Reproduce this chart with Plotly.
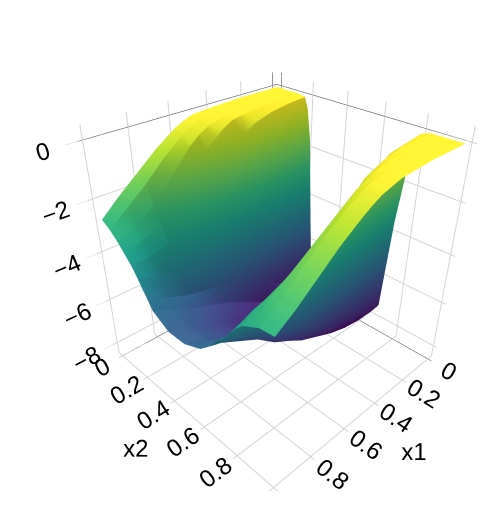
import numpy as np
import plotly.graph_objects as go

x1_vals = [0, 0.1, 0.2, 0.3, 0.35, 0.4, 0.45, 0.5, 0.55, 0.6, 0.65, 0.7, 0.8, 0.9, 0.99]
x2_vals = [0, 0.05, 0.1, 0.14, 0.18, 0.2, 0.22, 0.245, 0.265, 0.3, 0.4, 0.5, 0.6, 0.66, 0.7, 0.73, 0.76, 0.8, 0.84, 0.88, 0.92, 0.99]
tick_vals = [0, 0.2, 0.4, 0.6, 0.8, 1]
tick_text = ["0", "0.2", "0.4", "0.6", "0.8", ""]

# one row per x1 value
z_00 = [0, 0, 0, 0, -0.05, -0.5, -1.6, -5, -7.5, -7.9, -8, -8, -8, -7.8, -7.3, -3.5, -1.2, -0.1, 0, 0, 0, 0]
z_10 = [0, 0, 0, 0, -0.1, -0.6, -1.8, -5, -7.4, -7.8, -8, -8, -8, -7.8, -7.2, -4, -1.6, -0.2, 0, 0, 0, 0]
z_20 = [0, 0, 0, -0.03, -0.2, -0.8, -2, -5, -7.2, -7.7, -7.9, -8, -8, -7.7, -7, -4.6, -2, -0.3, -0.05, 0, 0, 0]
z_30 = [-0.02, -0.02, -0.05, -0.1, -0.4, -1.1, -2.4, -4.9, -6.8, -7.5, -7.8, -7.9, -7.9, -7.5, -6.8, -5, -2.7, -0.8, -0.2, -0.05, -0.05, -0.05]
z_35 = [-0.03, -0.04, -0.07, -0.14, -0.6, -1.3, -2.6, -4.85, -6.6, -7.4, -7.7, -7.8, -7.75, -7.35, -6.7, -5.2, -3, -1.1, -0.35, -0.1, -0.07, -0.07]
z_40 = [-0.05, -0.05, -0.1, -0.2, -0.9, -1.6, -2.9, -4.8, -6.4, -7.2, -7.6, -7.7, -7.6, -7.2, -6.6, -5.3, -3.2, -1.4, -0.5, -0.2, -0.1, -0.1]
z_45 = [-0.07, -0.1, -0.2, -0.4, -1.2, -1.9, -3.1, -4.8, -6.2, -7, -7.45, -7.55, -7.4, -7.05, -6.45, -5.4, -3.6, -1.9, -0.85, -0.35, -0.2, -0.2]
z_50 = [-0.1, -0.15, -0.3, -0.7, -1.5, -2.3, -3.4, -4.8, -6, -6.8, -7.3, -7.4, -7.2, -6.9, -6.3, -5.4, -3.9, -2.3, -1.1, -0.5, -0.3, -0.3]
z_55 = [-0.22, -0.3, -0.5, -1, -1.9, -2.6, -3.6, -4.85, -5.85, -6.6, -7.15, -7.2, -7, -6.65, -6.1, -5.3, -4.1, -2.75, -1.5, -0.75, -0.5, -0.48]
z_60 = [-0.4, -0.5, -0.8, -1.4, -2.3, -3, -3.8, -4.9, -5.7, -6.4, -7, -7, -6.8, -6.4, -5.9, -5.2, -4.2, -3, -1.8, -1, -0.7, -0.7]
z_65 = [-0.65, -0.8, -1.2, -1.8, -2.65, -3.3, -4, -4.95, -5.65, -6.25, -6.75, -6.75, -6.5, -6.1, -5.6, -4.95, -4.1, -3.05, -2, -1.25, -0.95, -0.95]
z_70 = [-0.9, -1.1, -1.6, -2.2, -3, -3.6, -4.2, -5, -5.6, -6.1, -6.5, -6.5, -6.2, -5.8, -5.3, -4.7, -4, -3.1, -2.2, -1.5, -1.2, -1.2]
z_80 = [-1.5, -1.8, -2.4, -3, -3.6, -4, -4.5, -5, -5.4, -5.8, -6.1, -6.1, -5.8, -5.3, -4.8, -4.3, -3.7, -3.1, -2.5, -2, -1.8, -1.8]
z_90 = [-2.1, -2.4, -2.9, -3.3, -3.8, -4.1, -4.4, -4.8, -5.1, -5.4, -5.7, -5.7, -5.4, -5, -4.5, -4.1, -3.7, -3.2, -2.8, -2.5, -2.4, -2.4]
z_99 = [-2.7, -2.9, -3.2, -3.5, -3.8, -4, -4.2, -4.5, -4.7, -5.1, -5.5, -5.5, -5.2, -4.8, -4.4, -4.2, -3.9, -3.5, -3.2, -3.05, -2.9, -2.85]

z_rows = [z_00, z_10, z_20, z_30, z_35, z_40, z_45, z_50, z_55, z_60, z_65, z_70, z_80, z_90, z_99]
z = np.array(z_rows).T

fig = go.Figure(go.Surface(x=x1_vals, y=x2_vals, z=z, colorscale="Viridis", cmin=-8, cmax=0, showscale=False))

axis_style = dict(
    showbackground=False,
    gridcolor="lightgrey",
    zeroline=True,
    zerolinecolor="#555555",
    tickfont=dict(family="Liberation Sans", size=17, color="black"),
)

fig.update_layout(
    width=503,
    height=529,
    margin=dict(l=16, r=0, t=0, b=27),
    paper_bgcolor="white",
    font=dict(family="Liberation Sans", color="black"),
    scene=dict(
        xaxis=dict(title=dict(text="x1", font=dict(size=24)), range=[-0.03, 1.02],
                   tickvals=tick_vals, ticktext=tick_text, **axis_style),
        yaxis=dict(title=dict(text="x2", font=dict(size=24)), range=[-0.03, 1.02],
                   tickvals=tick_vals, ticktext=tick_text, **axis_style),
        zaxis=dict(title=dict(text=""), range=[-8.5, 0.5], dtick=2, ticks="outside",
                   ticklen=16, tickcolor="lightgrey", **axis_style),
        aspectmode="manual",
        aspectratio=dict(x=0.89, y=0.89, z=0.94),
        camera=dict(eye=dict(x=1.28, y=1.28, z=1.13), center=dict(x=0.02, y=-0.02, z=-0.017)),
    ),
)

fig.write_html("out.html")
